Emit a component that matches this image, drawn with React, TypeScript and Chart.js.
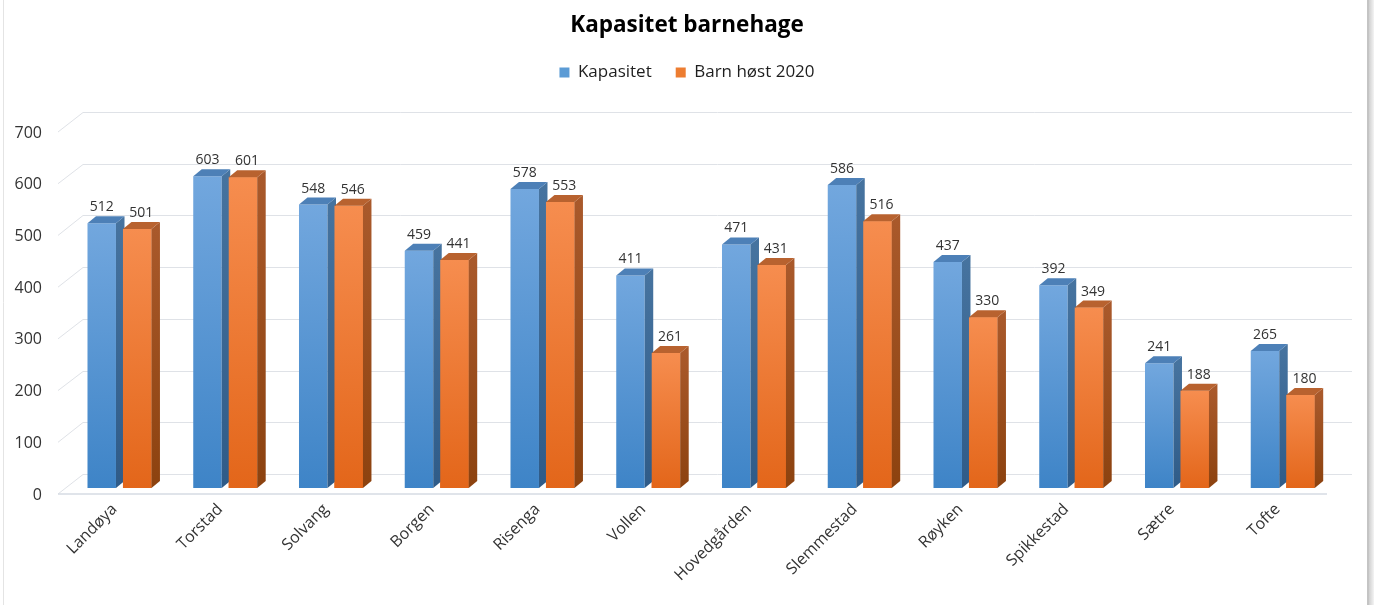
import React, { useEffect, useRef } from 'react';
import { Chart, registerables } from 'chart.js';

Chart.register(...registerables);

const chartTitle = 'Kapasitet barnehage';
const categories = ['Landøya', 'Torstad', 'Solvang', 'Borgen', 'Risenga', 'Vollen', 'Hovedgården', 'Slemmestad', 'Røyken', 'Spikkestad', 'Sætre', 'Tofte'];
const seriesNames = ['Kapasitet', 'Barn høst 2020'];
const kapasitet = [512, 603, 548, 459, 578, 411, 471, 586, 437, 392, 241, 265];
const barnHost2020 = [501, 601, 546, 441, 553, 261, 431, 516, 330, 349, 188, 180];
const yTicks = [0, 100, 200, 300, 400, 500, 600, 700];

const FONT = '"Open Sans", Lato, "Noto Sans", sans-serif';
const DX = 8.5;
const DY = 7;
const FRONT_DX = -8.6;
const FRONT_DY = 6;
const BACK_DX = 16.4;
const BACK_DY = -14;
const LABEL_SHIFT = [0, 4];
const LEGEND_HEIGHT = 86;

const palette = [
  { top: '#72a7de', bottom: '#3e84c7', side1: '#46739f', side2: '#2f5b88', cap: '#4d80b7', legend: '#5b9bd5' },
  { top: '#f68d4f', bottom: '#e3661a', side1: '#a9592b', side2: '#8c420f', cap: '#b8622f', legend: '#ed7d31' },
];

function frontGradient(idx: number) {
  return (context: any) => {
    const chart = context.chart;
    const c = palette[idx];
    const y = chart.scales && chart.scales.y;
    if (!y || context.raw === undefined) return c.legend;
    const top = y.getPixelForValue(context.raw);
    const bottom = y.getPixelForValue(0);
    if (!isFinite(top) || !isFinite(bottom) || top === bottom) return c.legend;
    const g = chart.ctx.createLinearGradient(0, top, 0, bottom);
    g.addColorStop(0, c.top);
    g.addColorStop(1, c.bottom);
    return g;
  };
}

function drawFaces(ctx: CanvasRenderingContext2D, meta: any, idx: number) {
  const c = palette[idx];
  meta.data.forEach((bar: any) => {
    const { x, y, base, width } = bar.getProps(['x', 'y', 'base', 'width'], true);
    const l = x - width / 2;
    const r = x + width / 2;
    const g = ctx.createLinearGradient(0, y, 0, base);
    g.addColorStop(0, c.side1);
    g.addColorStop(1, c.side2);
    ctx.fillStyle = g;
    ctx.beginPath();
    ctx.moveTo(r, y);
    ctx.lineTo(r + DX, y - DY);
    ctx.lineTo(r + DX, base - DY);
    ctx.lineTo(r, base);
    ctx.closePath();
    ctx.fill();
    ctx.fillStyle = c.cap;
    ctx.beginPath();
    ctx.moveTo(l, y);
    ctx.lineTo(l + DX, y - DY);
    ctx.lineTo(r + DX, y - DY);
    ctx.lineTo(r, y);
    ctx.closePath();
    ctx.fill();
  });
}

const framePlugin = {
  id: 'frame',
  beforeDraw(chart: any) {
    const { ctx, width, height } = chart;
    ctx.save();
    ctx.fillStyle = '#ffffff';
    ctx.fillRect(0, 0, width, height);
    ctx.strokeStyle = '#e4e4e4';
    ctx.lineWidth = 1;
    ctx.beginPath();
    ctx.moveTo(3.5, 0);
    ctx.lineTo(3.5, height);
    ctx.stroke();
    ctx.fillStyle = '#c4c4c4';
    ctx.fillRect(width - 7, 0, 2, height);
    const g = ctx.createLinearGradient(width - 5, 0, width, 0);
    g.addColorStop(0, '#d0d0d0');
    g.addColorStop(1, '#f4f4f4');
    ctx.fillStyle = g;
    ctx.fillRect(width - 5, 0, 5, height);
    ctx.restore();
  },
};

const wallPlugin = {
  id: 'wall',
  beforeDatasetsDraw(chart: any) {
    const { ctx, chartArea } = chart;
    const ys = chart.scales.y;
    const { left, right } = chartArea;
    ctx.save();
    ctx.strokeStyle = '#dfe2e7';
    ctx.lineWidth = 1;
    yTicks.forEach((v) => {
      const yp = ys.getPixelForValue(v);
      const yb = Math.round(yp + BACK_DY) + 0.5;
      ctx.beginPath();
      ctx.moveTo(left + FRONT_DX, yp + FRONT_DY);
      ctx.lineTo(left + BACK_DX, yb);
      ctx.lineTo(right + BACK_DX, yb);
      ctx.stroke();
    });
    const y0 = ys.getPixelForValue(0);
    ctx.strokeStyle = '#d6dbe3';
    ctx.lineWidth = 1.5;
    ctx.beginPath();
    ctx.moveTo(left + FRONT_DX, y0 + FRONT_DY);
    ctx.lineTo(right + FRONT_DX, y0 + FRONT_DY);
    ctx.stroke();
    ctx.restore();
  },
};

const bar3dPlugin = {
  id: 'bar3d',
  afterDatasetDraw(chart: any, args: any) {
    if (args.index !== 0) return;
    const { ctx } = chart;
    ctx.save();
    drawFaces(ctx, chart.getDatasetMeta(0), 0);
    const meta1 = chart.getDatasetMeta(1);
    meta1.data.forEach((el: any) => el.draw(ctx, chart.chartArea));
    drawFaces(ctx, meta1, 1);
    ctx.restore();
  },
  afterDatasetsDraw(chart: any) {
    const { ctx } = chart;
    ctx.save();
    ctx.font = '14px ' + FONT;
    ctx.fillStyle = '#333333';
    ctx.textAlign = 'center';
    ctx.textBaseline = 'alphabetic';
    chart.data.datasets.forEach((ds: any, i: number) => {
      const meta = chart.getDatasetMeta(i);
      meta.data.forEach((bar: any, j: number) => {
        const { x, y } = bar.getProps(['x', 'y'], true);
        ctx.fillText(String(ds.data[j]), x + LABEL_SHIFT[i], y - 12);
      });
    });
    ctx.restore();
  },
};

const legendSpacer = {
  id: 'legendSpacer',
  beforeLayout(chart: any) {
    const lg = chart.legend;
    if (lg && !lg.__patched) {
      lg.__patched = true;
      const origFit = lg.fit;
      lg.fit = function (this: any) {
        origFit.call(this);
        this.height = LEGEND_HEIGHT;
      };
    }
  },
};

export default function App() {
  const ref = useRef<HTMLCanvasElement | null>(null);

  useEffect(() => {
    document.body.style.margin = '0';
    const canvas = ref.current;
    if (!canvas) return;
    const chart = new Chart(canvas, {
      type: 'bar',
      data: {
        labels: categories,
        datasets: [
          {
            label: seriesNames[0],
            data: kapasitet,
            backgroundColor: frontGradient(0),
            borderWidth: 0,
            categoryPercentage: 0.671,
            barPercentage: 0.803,
          },
          {
            label: seriesNames[1],
            data: barnHost2020,
            backgroundColor: frontGradient(1),
            borderWidth: 0,
            categoryPercentage: 0.671,
            barPercentage: 0.803,
          },
        ],
      },
      options: {
        responsive: false,
        animation: false,
        devicePixelRatio: 1,
        layout: { padding: { top: 0, left: 0, right: 0, bottom: 0 } },
        plugins: {
          title: {
            display: true,
            text: chartTitle,
            color: '#000000',
            font: { family: FONT, size: 22.5, weight: 'bold', lineHeight: 1.2 },
            padding: { top: 12.5, bottom: 0.5 },
          },
          legend: {
            display: true,
            position: 'top',
            labels: {
              boxWidth: 10,
              boxHeight: 10,
              padding: 24,
              color: '#1e1e1e',
              font: { family: FONT, size: 17 },
              generateLabels: (chart: any) =>
                chart.data.datasets.map((ds: any, i: number) => ({
                  text: ds.label,
                  fillStyle: palette[i].legend,
                  strokeStyle: palette[i].legend,
                  lineWidth: 0,
                  hidden: false,
                  datasetIndex: i,
                  fontColor: '#1e1e1e',
                })),
            },
          },
          tooltip: { enabled: false },
        },
        scales: {
          x: {
            grid: { display: false, drawTicks: false, tickLength: 0 },
            border: { display: false },
            ticks: {
              autoSkip: false,
              maxRotation: 45,
              minRotation: 45,
              padding: 12,
              labelOffset: -5,
              color: '#333333',
              font: { family: FONT, size: 16 },
            },
            afterFit: (scale: any) => {
              scale.height = 117;
            },
          },
          y: {
            min: 0,
            max: 700,
            grid: { display: false, drawTicks: false, tickLength: 0 },
            border: { display: false },
            ticks: {
              stepSize: 100,
              padding: 24.6,
              labelOffset: 7,
              color: '#333333',
              font: { family: FONT, size: 16 },
            },
            afterFit: (scale: any) => {
              scale.width = 66.6;
            },
          },
          rightSpace: {
            type: 'linear',
            position: 'right',
            min: 0,
            max: 700,
            grid: { display: false, drawTicks: false, tickLength: 0 },
            border: { display: false },
            ticks: { display: false },
            afterFit: (scale: any) => {
              scale.width = 38.4;
            },
          },
        },
      },
      plugins: [framePlugin, legendSpacer, wallPlugin, bar3dPlugin],
    });
    return () => chart.destroy();
  }, []);

  return (
    <div style={{ width: 1374, height: 605 }}>
      <canvas ref={ref} width={1374} height={605} style={{ display: 'block', width: 1374, height: 605 }} />
    </div>
  );
}
